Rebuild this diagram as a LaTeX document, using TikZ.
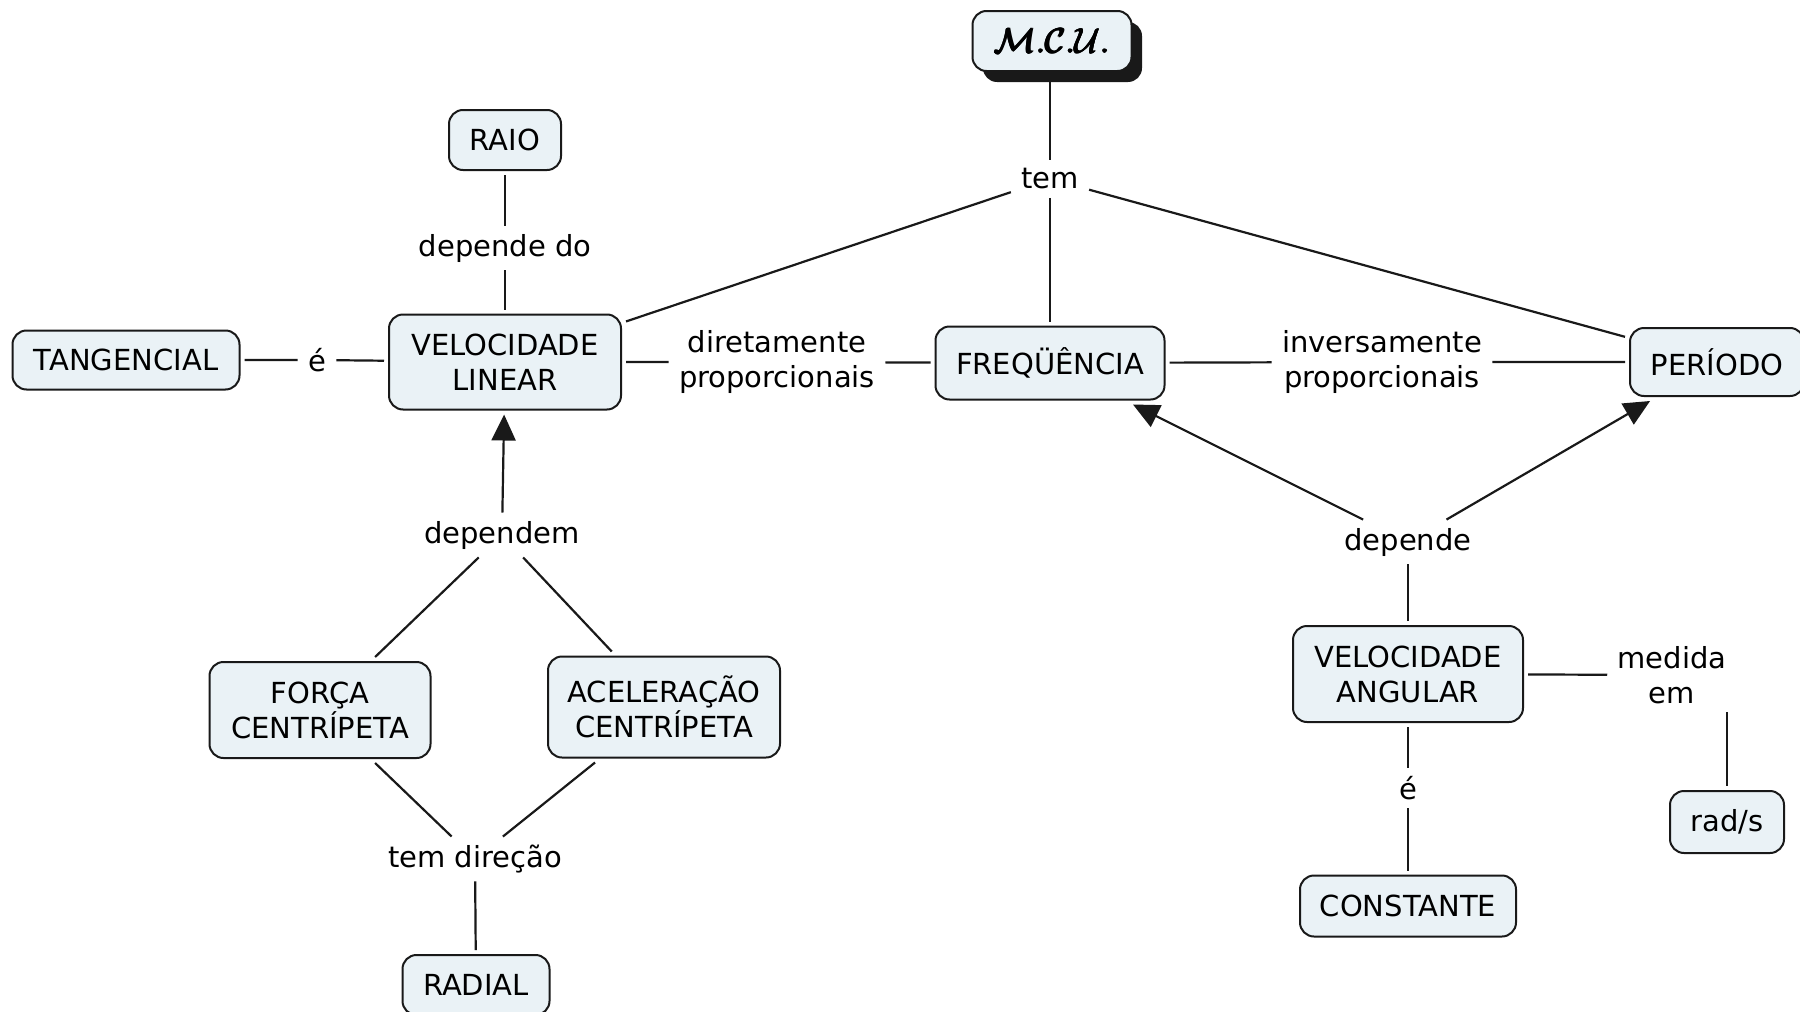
\documentclass[tikz,border=0pt]{standalone}
\usepackage{fontspec}
\setmainfont{DejaVu Sans}
\usetikzlibrary{arrows.meta}

\definecolor{nodefill}{RGB}{234,242,246}
\definecolor{linec}{RGB}{25,25,25}
\newcommand\conceptfont{\fontsize{14.5}{17.5}\selectfont}
% overprinted copies give the script title a heavy stroke
\newcommand\heavytext[1]{%
  \rlap{#1}\rlap{\kern0.35pt#1}\rlap{\raisebox{0.35pt}{#1}}%
  \rlap{\raisebox{0.35pt}{\kern0.35pt#1}}\rlap{\raisebox{-0.3pt}{\kern0.2pt#1}}%
  \kern0.7pt#1}
\newcommand\mcutitle{{\fontsize{17.5}{20}\selectfont
  \heavytext{$\mathcal{M}\mathbf{.}\mathcal{C}\mathbf{.}\mathcal{U}\mathbf{.}$}}}

\tikzset{
  sz/.style 2 args={minimum width=#1*0.5pt, minimum height=#2*0.5pt},
  concept/.style={draw=linec, line width=1pt, fill=nodefill, rounded corners=7pt,
    align=center, inner sep=0pt, outer sep=2.5pt, font=\conceptfont},
  linking/.style={align=center, inner xsep=5pt, inner ysep=4pt, font=\conceptfont},
  link/.style={draw=linec, line width=1.1pt},
  linkarrow/.style={link, -{Triangle[length=13pt,width=12pt]}},
}

\begin{document}
\begin{tikzpicture}[x=0.5pt,y=-0.5pt]
\useasboundingbox (0,0) rectangle (1800,1012);
\fill[white] (0,0) rectangle (1800,1012);
\clip (0,0) rectangle (1800,1012);

% solid shadow behind the root concept
\fill[linec, rounded corners=7pt] (983,22) rectangle (1142,82);

% concepts and linking phrases
\node[concept, sz={159}{60}] (mcu) at (1052,41) {\mcutitle};
\node[linking] (tem) at (1050,179) {tem};
\node[concept, sz={112}{60}] (raio) at (505,140) {RAIO};
\node[linking] (dependedo) at (505,248) {depende do};
\node[concept, sz={232}{95}] (vl) at (505,362) {VELOCIDADE\\LINEAR};
\node[concept, sz={227}{59}] (tang) at (126,360) {TANGENCIAL};
\node[linking] (e1) at (317,360) {é};
\node[linking] (dir) at (777,362) {diretamente\\proporcionais};
\node[concept, sz={229}{73}] (freq) at (1050,363) {FREQÜÊNCIA};
\node[linking] (inv) at (1382,362) {inversamente\\proporcionais};
\node[concept, sz={174}{68}] (per) at (1717,362) {PERÍODO};
\node[linking] (dependem) at (502,535) {dependem};
\node[concept, sz={221}{96}] (forca) at (320,710) {FORÇA\\CENTRÍPETA};
\node[concept, sz={232}{101}] (acel) at (664,707) {ACELERAÇÃO\\CENTRÍPETA};
\node[linking] (tdir) at (475,859) {tem direção};
\node[concept, sz={147}{60}] (radial) at (476,985) {RADIAL};
\node[linking] (depende) at (1408,542) {depende};
\node[concept, sz={230}{96}] (va) at (1408,674) {VELOCIDADE\\ANGULAR};
\node[linking] (medida) at (1672,675) {medida\\em};
\node[linking] (e2) at (1408,788) {é};
\node[concept, sz={216}{61}] (const) at (1408,906) {CONSTANTE};
\node[concept, sz={114}{62}] (rads) at (1727,822) {rad/s};

% connectors
\draw[link] (mcu.south -| tem) -- (tem);
\draw[link] (tem) -- (vl);
\draw[link] (tem) -- (freq);
\draw[link] (tem) -- (per);
\draw[link] (raio) -- (dependedo) -- (vl);
\draw[link] (tang) -- (e1) -- (vl);
\draw[link] (vl) -- (dir) -- (freq);
\draw[link] (freq) -- (inv) -- (per);
\draw[linkarrow] (dependem) -- (vl);
\draw[link] (forca) -- (dependem);
\draw[link] (acel) -- (dependem);
\draw[link] (forca) -- (tdir);
\draw[link] (acel) -- (tdir);
\draw[link] (tdir) -- (radial);
\draw[linkarrow] (depende) -- (freq);
\draw[linkarrow] (depende) -- (per);
\draw[link] (va) -- (depende);
\draw[link] (va) -- (medida);
\draw[link] (rads.north |- medida.south) -- (rads);
\draw[link] (va) -- (e2) -- (const);
\end{tikzpicture}
\end{document}
